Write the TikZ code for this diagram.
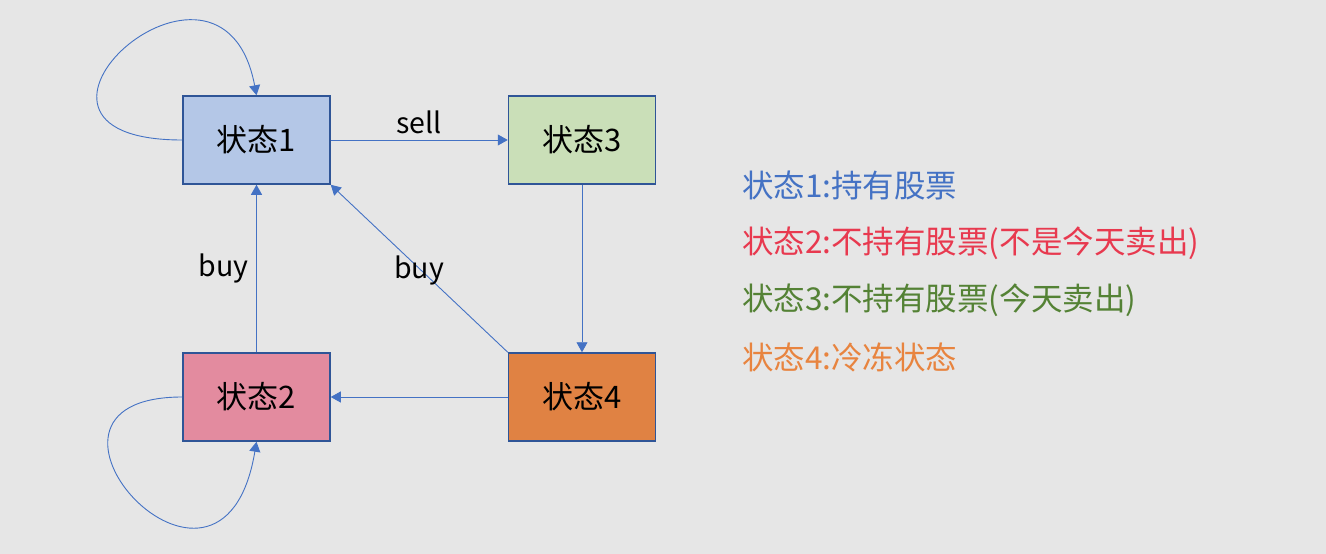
\documentclass[tikz,border=0pt]{standalone}
\usepackage{fontspec}
\setmainfont{Noto Sans CJK SC}
\usetikzlibrary{arrows.meta}
\definecolor{bgcol}{HTML}{E6E6E6}
\definecolor{linecol}{HTML}{4472C4}
\definecolor{edgecol}{HTML}{2F5597}
\definecolor{fillone}{HTML}{B4C7E7}
\definecolor{filltwo}{HTML}{E38B9F}
\definecolor{fillthree}{HTML}{CADFB8}
\definecolor{fillfour}{HTML}{E08243}
\definecolor{txtone}{HTML}{4472C4}
\definecolor{txttwo}{HTML}{E8394F}
\definecolor{txtthree}{HTML}{548235}
\definecolor{txtfour}{HTML}{E8843F}

\begin{document}
\begin{tikzpicture}[node distance=325.5pt,
  state/.style={shape=rectangle, draw=edgecol, line width=1.5pt, minimum width=147pt, minimum height=88pt, inner sep=0pt, font=\fontsize{31pt}{36pt}\selectfont},
  link/.style={draw=linecol, line width=0.9pt, -{Triangle[length=10pt,width=11pt]}},
  lab/.style={font=\fontsize{28.5pt}{33pt}\selectfont},
  legend/.style={anchor=west, inner sep=0pt, font=\fontsize{31.5pt}{36pt}\selectfont}]
\path[use as bounding box, fill=bgcol] (0,0) rectangle (1326pt,-554pt);

\node [state, fill=fillone] (S1) at (256.5pt,-140pt) {状态1};
\node [state, fill=fillthree, right of=S1] (S3) {状态3};
\node [state, fill=filltwo, below of=S1, node distance=257pt] (S2) {状态2};
\node [state, fill=fillfour, right of=S2] (S4) {状态4};

\draw[link] (S1.west) .. controls +(-215pt,0pt) and +(-35pt,185pt) .. (S1.north);
\draw[link] (S2.west) .. controls +(-190pt,0pt) and +(-35pt,-210pt) .. (S2.south);
\draw[link] (S1) -- node [lab, midway, above, yshift=2pt] {sell} (S3);
\draw[link] (S3) -- (S4);
\draw[link] (S4) -- (S2);
\draw[link] (S2) -- node [lab, midway, left, xshift=-4pt] {buy} (S1);
\draw[link] (S4.north west) -- node [lab, midway, yshift=-2pt] {buy} (S1.south east);

% legend
\node [legend, text=txtone] (L1) at (742pt,-185pt) {状态1:持有股票};
\node [legend, text=txttwo] (L2) at (742pt,-243pt) {状态2:不持有股票(不是今天卖出)};
\node [legend, text=txtthree] (L3) at (742pt,-300pt) {状态3:不持有股票(今天卖出)};
\node [legend, text=txtfour] (L4) at (742pt,-357pt) {状态4:冷冻状态};
\end{tikzpicture}
\end{document}
